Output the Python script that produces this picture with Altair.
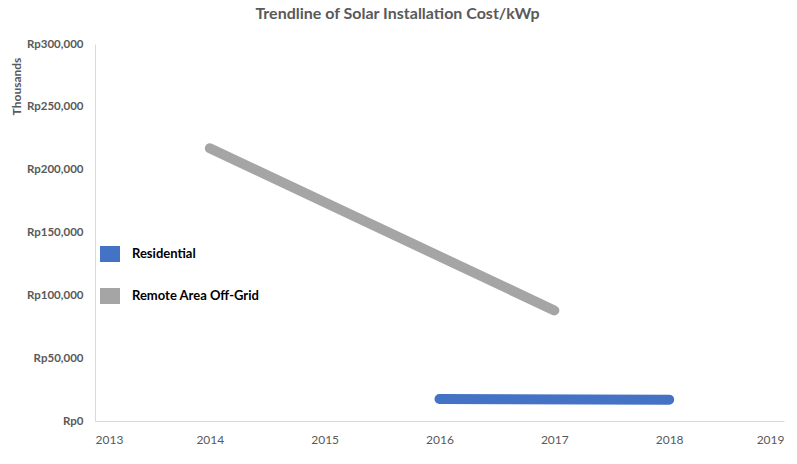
import altair as alt
import pandas as pd

series_names = ["Residential", "Remote Area Off-Grid"]
res_years = [2016, 2018]
res_values = [17500, 17000]
remote_years = [2014, 2017]
remote_values = [217000, 88000]
colors = ["#4472C4", "#A5A5A5"]
x_ticks = [2013, 2014, 2015, 2016, 2017, 2018, 2019]
y_ticks = [0, 50000, 100000, 150000, 200000, 250000, 300000]

df = pd.DataFrame({
    "year": res_years + remote_years,
    "value": res_values + remote_values,
    "series": [series_names[0]] * len(res_years) + [series_names[1]] * len(remote_years),
})

FONT = "Lato"
GREY = "#595959"

chart = alt.Chart(df).mark_line(strokeWidth=10, strokeCap="round").encode(
    x=alt.X("year:Q",
            scale=alt.Scale(domain=[2013, 2019], nice=False, zero=False),
            axis=alt.Axis(values=x_ticks, format="d", title=None, grid=False,
                          ticks=False, domainColor="#D9D9D9", labelPadding=13,
                          labelFont=FONT, labelFontSize=12, labelColor=GREY)),
    y=alt.Y("value:Q",
            scale=alt.Scale(domain=[0, 300000], nice=False),
            axis=alt.Axis(values=y_ticks, grid=False, ticks=False,
                          labelExpr="'Rp' + format(datum.value, ',')",
                          domainColor="#D9D9D9", labelPadding=12,
                          labelFont=FONT, labelFontSize=11.5, labelFontWeight="bold",
                          labelColor=GREY,
                          title="Thousands", titleFont=FONT, titleFontSize=12,
                          titleFontWeight="bold", titleColor=GREY,
                          titleX=-72, titleY=42, titleAlign="center")),
    color=alt.Color("series:N",
                    scale=alt.Scale(domain=series_names, range=colors),
                    legend=alt.Legend(title=None, orient="none", legendX=5, legendY=200,
                                      symbolType="M-1,-0.33H1V0.33H-1Z", symbolSize=36,
                                      symbolStrokeWidth=14, symbolOpacity=1,
                                      labelFont=FONT, labelFontSize=13,
                                      labelFontWeight="bold", labelColor="#000000",
                                      labelOffset=12, rowPadding=-16)),
    detail="series:N",
).properties(
    width=689, height=377,
    title=alt.TitleParams("Trendline of Solar Installation Cost/kWp", font=FONT,
                          fontSize=16, fontWeight="bold", color=GREY,
                          anchor="middle", dx=-42, offset=16),
    autosize=alt.AutoSizeParams(type="none"),
    padding={"left": 95, "top": 44, "right": 13, "bottom": 43},
).configure_view(stroke=None)

chart.save("out.html", embed_options={"renderer": "svg", "actions": False})
